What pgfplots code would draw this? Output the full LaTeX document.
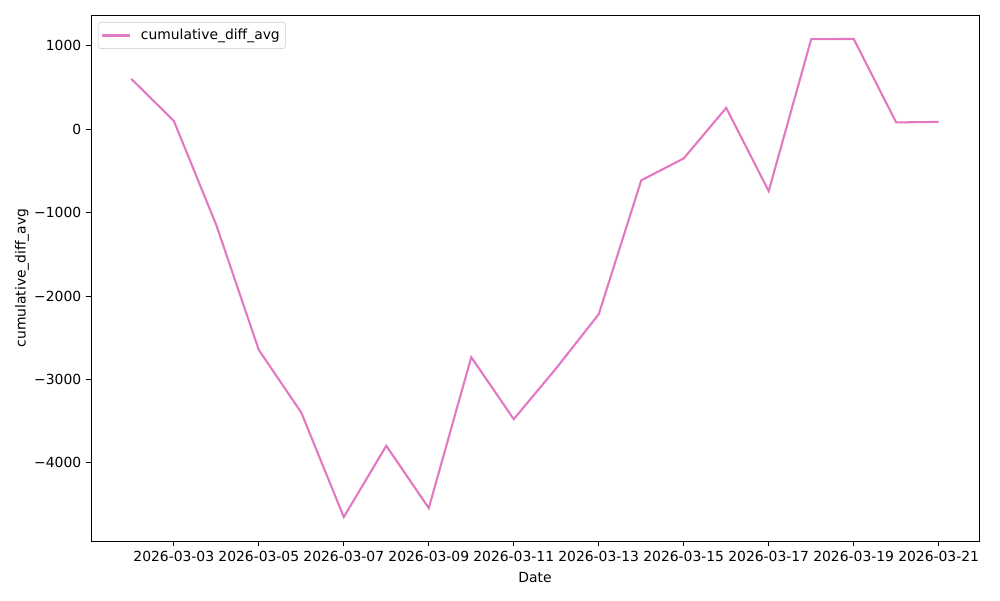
\documentclass[border=0pt]{standalone}
\usepackage{pgfplots}
\pgfplotsset{compat=1.18}
\usepackage{fontspec}
\setmainfont{DejaVu Sans}
\definecolor{tabpink}{HTML}{E377C2}
\begin{document}
\begin{tikzpicture}
\useasboundingbox (0,0) rectangle (720pt,432pt);
\begin{axis}[
  at={(65.5pt,42.5pt)}, anchor=south west,
  scale only axis, width=639.4pt, height=378.7pt,
  xmin=-0.95, xmax=19.95, ymin=-4937, ymax=1368,
  axis line style={line width=0.6pt},
  tick align=outside, tick style={line width=0.6pt, black},
  major tick length=3.5pt,
  xtick={1,3,5,7,9,11,13,15,17,19},
  xticklabels={2026-03-03,2026-03-05,2026-03-07,2026-03-09,2026-03-11,2026-03-13,2026-03-15,2026-03-17,2026-03-19,2026-03-21},
  ytick={-4000,-3000,-2000,-1000,0,1000},
  yticklabels={−4000,−3000,−2000,−1000,0,1000},
  xtick pos=bottom, ytick pos=left,
  font=\fontsize{10pt}{12pt}\selectfont,
  xlabel={Date}, ylabel={cumulative\_diff\_avg},
  xlabel style={yshift=-1pt},
  ylabel style={yshift=-3pt},
  legend style={at={(0,1)}, anchor=north west, xshift=5pt, yshift=-5pt,
    draw=black!20, rounded corners=2pt, font=\fontsize{10pt}{12pt}\selectfont,
    inner xsep=2pt, inner ysep=3pt},
  legend cell align=left,
  legend image code/.code={\draw[#1] (0pt,0pt) -- (20pt,0pt); \path[draw=none] (0pt,0pt) -- (26pt,0pt);},
]
\addplot[color=tabpink, line width=1.5pt] coordinates {
(0,602) (1,99) (2,-1150) (3,-2647) (4,-3398) (5,-4650) (6,-3796) (7,-4543)
(8,-2734) (9,-3477) (10,-2866) (11,-2219) (12,-614) (13,-351) (14,255)
(15,-743) (16,1078) (17,1081) (18,80) (19,87)
};
\addlegendentry{cumulative\_diff\_avg}
\end{axis}
\end{tikzpicture}
\end{document}
